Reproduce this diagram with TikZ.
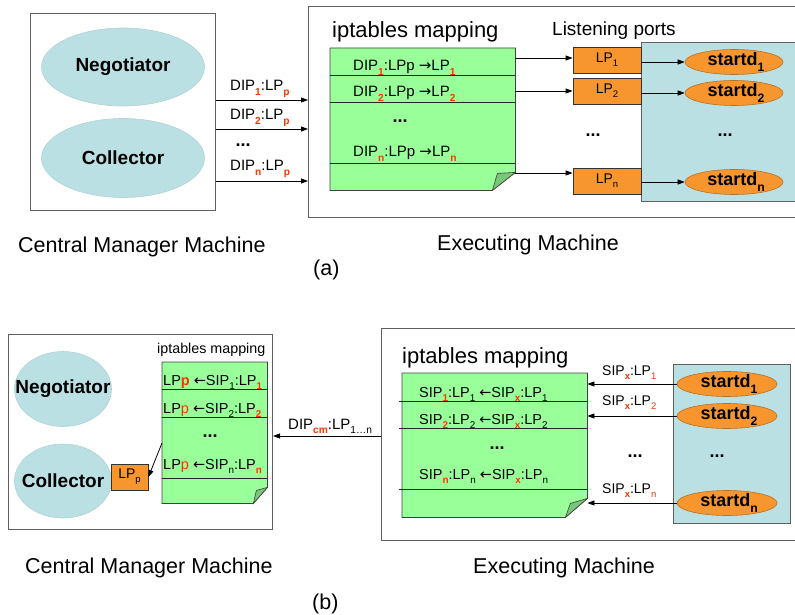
\documentclass[tikz,border=0pt]{standalone}
\usepackage{fontspec}
\setmainfont{Liberation Sans}
\newfontfamily\arrfont{DejaVu Sans}
\usetikzlibrary{arrows.meta,calc,shapes.geometric}
\definecolor{ellblue}{HTML}{BBE0E3}
\definecolor{docgreen}{HTML}{99FF99}
\definecolor{flapgreen}{HTML}{78C878}
\definecolor{portorange}{HTML}{F7962F}
\definecolor{subred}{HTML}{FF3300}
\definecolor{boxgray}{HTML}{606060}
\newcommand\fs[1]{\fontsize{#1}{#1}\selectfont}
\newcommand\sbs[1]{\raisebox{-0.3em}{\scalebox{0.68}{#1}}}
\newcommand\rsb[1]{\sbs{\textcolor{subred}{\textbf{#1}}}}
\newcommand\osb[1]{\sbs{\textcolor{subred}{#1}}}
\newcommand\ra{{\arrfont →}}
\newcommand\la{{\arrfont ←}}
\tikzset{
  mbox/.style={draw=boxgray, line width=1pt, inner sep=0pt, anchor=north west},
  ell/.style={ellipse, fill=ellblue, draw=ellblue!85!gray, line width=0.6pt, inner sep=0pt},
  etxt/.style={inner sep=0pt, font=\fs{19}\bfseries},
  sell/.style={ellipse, fill=portorange, draw=portorange!75!black, line width=0.6pt, inner sep=0pt, minimum height=25},
  stxt/.style={inner sep=0pt, font=\fs{18}\bfseries},
  lpbox/.style={rectangle, fill=portorange, draw=black!80, line width=0.8pt, minimum width=68, minimum height=26, inner sep=0pt, font=\fs{14}},
  bluebox/.style={fill=ellblue, draw=boxgray, line width=1pt, inner sep=0pt, anchor=north west},
  docarea/.style={inner sep=0pt, anchor=north west},
  docshape/.style={fill=docgreen, draw=black!75, line width=0.8pt},
  flap/.style={fill=flapgreen, draw=black!75, line width=0.6pt},
  rowline/.style={draw=black!85, line width=0.8pt},
  txt/.style={inner sep=0pt, anchor=base west},
  arr/.style={draw=black, line width=0.8pt, -{Triangle[length=7pt,width=5pt]}},
  dots/.style={inner sep=0pt, font=\fs{18}\bfseries}
}
\begin{document}
\begin{tikzpicture}[x=1pt,y=-1pt]
\useasboundingbox (0,0) rectangle (795,615);

% ================= (a) =================
\node[mbox, minimum width=185, minimum height=197] (cmA) at (30,13) {};
\node[ell, minimum width=163, minimum height=78] (negA) at (123,67) {};
\node[etxt] (negAt) at (negA) {Negotiator};
\node[ell, minimum width=163, minimum height=79] (colA) at (123,158) {};
\node[etxt] (colAt) at (colA) {Collector};

\node[mbox, minimum width=500, minimum height=211] (emA) at (308,6) {};

\draw[arr] (cmA.east |- 0,100) -- (emA.west |- 0,100);
\draw[arr] (cmA.east |- 0,129) -- (emA.west |- 0,129);
\draw[arr] (cmA.east |- 0,181) -- (emA.west |- 0,181);
\node[txt, font=\fs{15}] (la1) at (230,91) {DIP\rsb{1}:LP\rsb{p}};
\node[txt, font=\fs{15}] (la2) at (230,120) {DIP\rsb{2}:LP\rsb{p}};
\node[dots] (lad) at (243,145) {...};
\node[txt, font=\fs{15}] (lan) at (230,171) {DIP\rsb{n}:LP\rsb{p}};

\node[txt, font=\fs{22}] (ipA) at (332,38) {iptables mapping};
\node[docarea, minimum width=185, minimum height=142] (docA) at (330,48) {};
\draw[docshape] (docA.north west) -- (docA.north east) -- ($(docA.south east)+(0,-18)$) -- ($(docA.south east)+(-23,0)$) -- (docA.south west) -- cycle;
\draw[flap] ($(docA.south east)+(-23,0)$) -- ($(docA.south east)+(-18,-17)$) -- ($(docA.south east)+(0,-18)$) -- cycle;
\draw[rowline] (docA.west |- 0,75) -- (docA.east |- 0,75);
\draw[rowline] (docA.west |- 0,102) -- (docA.east |- 0,102);
\draw[rowline] (docA.west |- 0,163) -- (docA.east |- 0,163);
\node[txt, font=\fs{15}] (ra1) at (353,71) {DIP\rsb{1}:LPp \ra LP\rsb{1}};
\node[txt, font=\fs{15}] (ra2) at (353,97) {DIP\rsb{2}:LPp \ra LP\rsb{2}};
\node[dots] (rad) at (400,121) {...};
\node[txt, font=\fs{15}] (ran) at (353,157) {DIP\rsb{n}:LPp \ra LP\rsb{n}};

\node[txt, font=\fs{19}] (lpt) at (552,36) {Listening ports};
\node[bluebox, minimum width=170, minimum height=159] (bxA) at (641,42) {};
\node[lpbox] (lp1) at (607,60) {LP\sbs{1}};
\node[lpbox] (lp2) at (607,91) {LP\sbs{2}};
\node[lpbox] (lpn) at (607,181) {LP\sbs{n}};
\draw[arr] (docA.east |- 0,58) -- (lp1.west |- 0,58);
\draw[arr] (docA.east |- 0,91) -- (lp2.west |- 0,91);
\draw[arr] (docA.east |- 0,173) -- (lpn.west |- 0,173);
\node[dots] (lpd) at (593,135) {...};

\node[sell, minimum width=98] (sa1) at (734,62) {};
\node[stxt] (sa1t) at (736,62) {startd\sbs{1}};
\node[sell, minimum width=98] (sa2) at (734,93) {};
\node[stxt] (sa2t) at (736,93) {startd\sbs{2}};
\node[sell, minimum width=98] (san) at (734,182) {};
\node[stxt] (sant) at (736,182) {startd\sbs{n}};
\node[dots] (sad) at (725,135) {...};
\draw[arr] (lp1.east |- sa1.west) -- (sa1.west);
\draw[arr] (lp2.east |- sa2.west) -- (sa2.west);
\draw[arr] (lpn.east |- san.west) -- (san.west);

\node[txt, font=\fs{21.5}] (capA1) at (18,252) {Central Manager Machine};
\node[txt, font=\fs{21.5}] (capA2) at (437,250) {Executing Machine};
\node[txt, font=\fs{21.5}] (capA) at (313,275) {(a)};

% ================= (b) =================
\node[mbox, minimum width=264, minimum height=195] (cmB) at (8,334) {};
\node[ell, minimum width=97, minimum height=75] (negB) at (63,389) {};
\node[etxt] (negBt) at (negB) {Negotiator};
\node[ell, minimum width=97, minimum height=74] (colB) at (63,481) {};
\node[etxt] (colBt) at (colB) {Collector};
\node[lpbox, minimum width=37] (lpp) at (129.5,477) {LP\sbs{p}};

\node[txt, font=\fs{14.3}] (ipB) at (157,353) {iptables mapping};
\node[docarea, minimum width=105, minimum height=141] (docB) at (162,362) {};
\draw[docshape] (docB.north west) -- (docB.north east) -- ($(docB.south east)+(0,-16)$) -- ($(docB.south east)+(-14,0)$) -- (docB.south west) -- cycle;
\draw[flap] ($(docB.south east)+(-14,0)$) -- ($(docB.south east)+(-11,-13)$) -- ($(docB.south east)+(0,-16)$) -- cycle;
\draw[rowline] (docB.west |- 0,389) -- (docB.east |- 0,389);
\draw[rowline] (docB.west |- 0,417) -- (docB.east |- 0,417);
\draw[rowline] (docB.west |- 0,478) -- (docB.east |- 0,478);
\node[txt, font=\fs{14.5}] (rb1) at (163,385) {LP\textcolor{subred}{\textbf{p}} \la SIP\sbs{1}:LP\rsb{1}};
\node[txt, font=\fs{14.5}] (rb2) at (163,413) {LP\textcolor{subred}{p} \la SIP\sbs{2}:LP\rsb{2}};
\node[dots] (rbd) at (210,436) {...};
\node[txt, font=\fs{14.5}] (rbn) at (163,469) {LP\textcolor{subred}{p} \la SIP\sbs{n}:LP\rsb{n}};
\draw[arr] (docB.west |- 0,443) -- (lpp.east);

\node[mbox, minimum width=430, minimum height=212] (emB) at (381,328) {};
\draw[arr] (emB.west |- 0,436) -- (cmB.east |- 0,436);
\node[txt, font=\fs{15}] (lbm) at (288,429) {DIP\rsb{cm}:LP\sbs{1…n}};

\node[txt, font=\fs{22}] (ipC) at (402,363) {iptables mapping};
\node[docarea, minimum width=185, minimum height=144] (docC) at (402,373) {};
\draw[docshape] (docC.north west) -- (docC.north east) -- ($(docC.south east)+(0,-19)$) -- ($(docC.south east)+(-22,0)$) -- (docC.south west) -- cycle;
\draw[flap] ($(docC.south east)+(-22,0)$) -- ($(docC.south east)+(-17,-14)$) -- ($(docC.south east)+(0,-19)$) -- cycle;
\draw[rowline] ($(docC.west |- 0,401)+(-3,0)$) -- (docC.east |- 0,401);
\draw[rowline] ($(docC.west |- 0,428)+(-3,0)$) -- (docC.east |- 0,428);
\draw[rowline] ($(docC.west |- 0,489)+(-3,0)$) -- (docC.east |- 0,489);
\node[txt, font=\fs{14.5}] (rc1) at (419,397) {SIP\rsb{1}:LP\sbs{1} \la SIP\rsb{x}:LP\sbs{1}};
\node[txt, font=\fs{14.5}] (rc2) at (419,424) {SIP\rsb{2}:LP\sbs{2} \la SIP\rsb{x}:LP\sbs{2}};
\node[dots] (rcd) at (497,448) {...};
\node[txt, font=\fs{14.5}] (rcn) at (419,479) {SIP\rsb{n}:LP\sbs{n} \la SIP\rsb{x}:LP\sbs{n}};

\node[bluebox, minimum width=117, minimum height=159] (bxB) at (673,364) {};
\node[sell, minimum width=100] (sb1) at (727,384) {};
\node[stxt] (sb1t) at (729,384) {startd\sbs{1}};
\node[sell, minimum width=100] (sb2) at (727,416) {};
\node[stxt] (sb2t) at (729,416) {startd\sbs{2}};
\node[sell, minimum width=100] (sbn) at (727,503) {};
\node[stxt] (sbnt) at (729,503) {startd\sbs{n}};
\node[dots] (sbd) at (717,456) {...};
\node[dots] (lbd) at (635,456) {...};
\draw[arr] (sb1.west) -- (docC.east |- sb1.west);
\draw[arr] (sb2.west) -- (docC.east |- sb2.west);
\draw[arr] (sbn.west) -- (docC.east |- sbn.west);
\node[txt, font=\fs{14}] (ls1) at (602,375) {SIP\rsb{x}:LP\osb{1}};
\node[txt, font=\fs{14}] (ls2) at (602,405) {SIP\rsb{x}:LP\osb{2}};
\node[txt, font=\fs{14}] (lsn) at (602,493) {SIP\rsb{x}:LP\osb{n}};

\node[txt, font=\fs{21.5}] (capB1) at (25,573) {Central Manager Machine};
\node[txt, font=\fs{21.5}] (capB2) at (473,573) {Executing Machine};
\node[txt, font=\fs{21.5}] (capB) at (312,609) {(b)};
\end{tikzpicture}
\end{document}
